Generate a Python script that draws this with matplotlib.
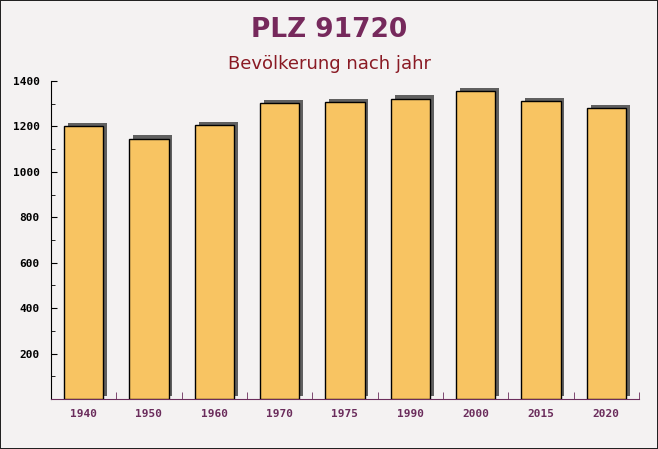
import matplotlib
matplotlib.use('Agg')
import matplotlib.pyplot as plt
import matplotlib.patheffects as pe
from matplotlib.ticker import MultipleLocator, FixedLocator
import numpy as np

jahre = ['1940', '1950', '1960', '1970', '1975', '1990', '2000', '2015', '2020']
einwohner = [1200, 1145, 1205, 1303, 1307, 1321, 1356, 1312, 1280]

fig = plt.figure(figsize=(6.58, 4.49), dpi=100)
fig.patch.set_facecolor('#f4f2f2')
fig.patch.set_edgecolor('#222222')
fig.patch.set_linewidth(1.2)

ax = fig.add_axes([51 / 658, 50 / 449, 588 / 658, 318 / 449])
ax.patch.set_alpha(0)

x = np.arange(len(jahre))
shadow = [pe.SimplePatchShadow(offset=(2.8, 2.5), shadow_rgbFace='#505050', alpha=0.9), pe.Normal()]
ax.bar(x, einwohner, width=0.6, color='#f8c462', edgecolor='black', linewidth=1,
       path_effects=shadow, zorder=3)

ax.set_xlim(-0.5, len(jahre) - 0.5)
ax.set_ylim(0, 1400)

for s in ['top', 'right']:
    ax.spines[s].set_visible(False)
ax.spines['left'].set_color('black')
ax.spines['bottom'].set_color('#6b2d5c')

mono = {'family': 'DejaVu Sans Mono', 'weight': 'bold', 'size': 8}
ax.set_xticks(x)
ax.set_xticklabels(jahre, fontdict=mono, color='#6b2d5c')
ax.xaxis.set_minor_locator(FixedLocator(x + 0.5))
ax.tick_params(axis='x', which='major', length=0, pad=7)
ax.tick_params(axis='x', which='minor', direction='in', length=5, color='#6b2d5c')

ax.yaxis.set_major_locator(MultipleLocator(200))
ax.yaxis.set_minor_locator(MultipleLocator(100))
ax.set_yticks(range(200, 1401, 200))
ax.set_yticklabels([str(v) for v in range(200, 1401, 200)], fontdict=mono, color='black')
ax.tick_params(axis='y', which='major', direction='in', length=4, pad=8)
ax.tick_params(axis='y', which='minor', direction='in', length=3)

fig.text(0.5, 1 - 30 / 449, 'PLZ 91720', ha='center', va='center', fontsize=19,
         fontweight='bold', color='#76295c')
fig.text(0.5, 1 - 64 / 449, 'Bevölkerung nach jahr', ha='center', va='center',
         fontsize=13, color='#8a1a24')

fig.savefig('out.png', dpi=100, facecolor=fig.get_facecolor(), edgecolor=fig.get_edgecolor())
